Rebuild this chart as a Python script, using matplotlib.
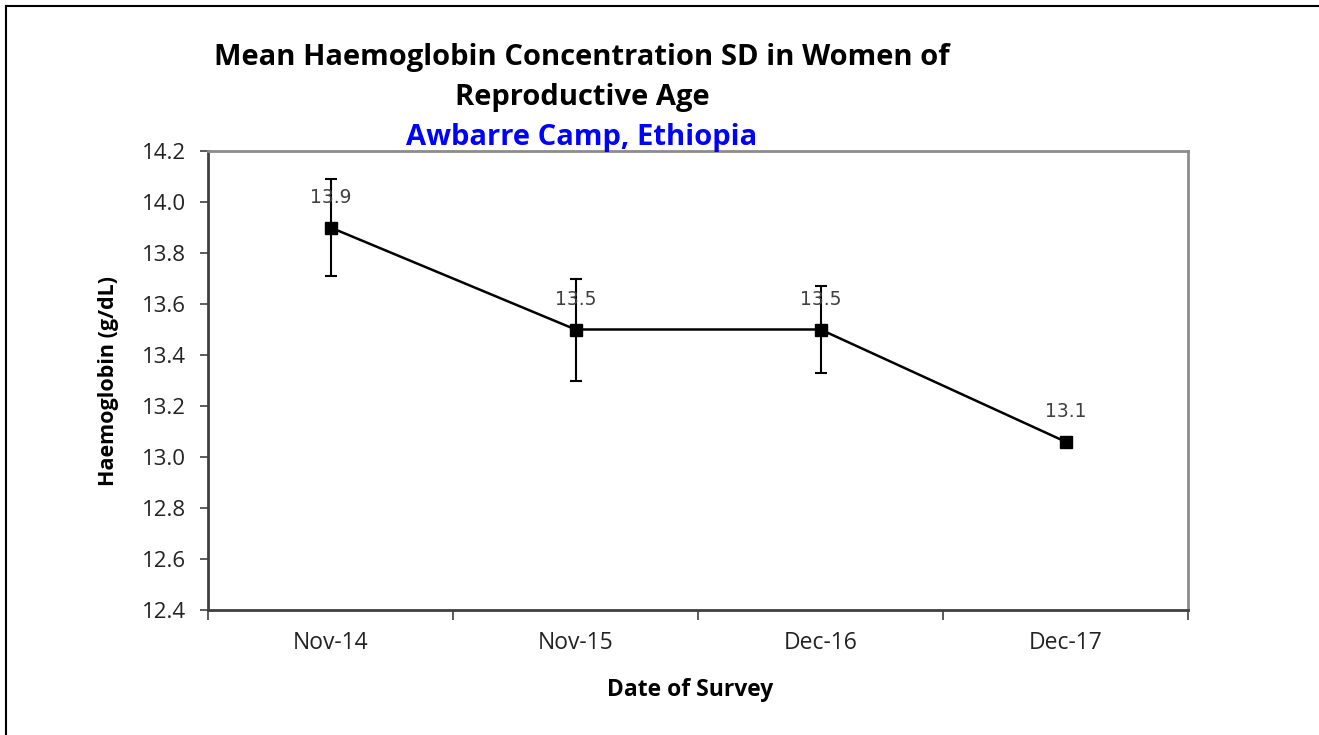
import matplotlib
matplotlib.use("Agg")
import matplotlib.pyplot as plt
from matplotlib.lines import Line2D
import numpy as np

# Data
surveys = ["Nov-14", "Nov-15", "Dec-16", "Dec-17"]
mean_hb = [13.90, 13.50, 13.50, 13.06]
sd_hb = [0.19, 0.20, 0.17, 0.0]
value_labels = ["13.9", "13.5", "13.5", "13.1"]
y_ticks = [12.4, 12.6, 12.8, 13.0, 13.2, 13.4, 13.6, 13.8, 14.0, 14.2]

W, H = 1319, 735
fig = plt.figure(figsize=(W / 100, H / 100), dpi=100)
fig.patch.set_facecolor("white")

# axes box in pixels
left, right, top, bottom = 208, 1188, 151, 610
ax = fig.add_axes([left / W, 1 - bottom / H, (right - left) / W, (bottom - top) / H])

x = np.arange(len(surveys))
ax.errorbar(x, mean_hb, yerr=sd_hb, color="black", lw=1.8, marker="s",
            markersize=9, markerfacecolor="black", markeredgecolor="black",
            ecolor="black", elinewidth=1.5, capsize=4.5, capthick=1.5, zorder=3)

for xi, yi, lab in zip(x, mean_hb, value_labels):
    ax.annotate(lab, (xi, yi), xytext=(0, 21.5), textcoords="offset points",
                ha="center", va="center", fontsize=13.5, color="#404040",
                family="DejaVu Sans")

ax.set_xlim(-0.5, len(surveys) - 0.5)
ax.set_ylim(12.4, 14.2)
ax.set_yticks(y_ticks)
ax.set_yticklabels([f"{v:.1f}" for v in y_ticks])
ax.set_xticks(x)
ax.set_xticklabels(surveys)
ax.set_xticks(np.arange(-0.5, len(surveys)), minor=True)
ax.tick_params(axis="x", which="major", length=0, pad=15, labelsize=16.5,
               labelcolor="#222222")
ax.tick_params(axis="x", which="minor", length=7, width=1.2, color="#404040",
               direction="out")
ax.tick_params(axis="y", length=6, width=1.2, color="#404040", direction="out",
               pad=10, labelsize=16, labelcolor="#222222")
for lab in ax.get_xticklabels() + ax.get_yticklabels():
    lab.set_family("Open Sans")

for s in ["left", "bottom"]:
    ax.spines[s].set_color("#404040")
    ax.spines[s].set_linewidth(2.0)
for s in ["top", "right"]:
    ax.spines[s].set_color("#8c8c8c")
    ax.spines[s].set_linewidth(2.0)

ax.set_ylabel("Haemoglobin (g/dL)", fontsize=15.5, fontweight="bold",
              family="Open Sans", labelpad=16)
fig.text(690 / W, 1 - 690 / H, "Date of Survey", ha="center", va="center",
         fontsize=16.5, fontweight="bold", family="Open Sans")

# title block
fig.text(582 / W, 1 - 58 / H, "Mean Haemoglobin Concentration SD in Women of",
         ha="center", va="center", fontsize=21, fontweight="bold", family="Open Sans")
fig.text(582 / W, 1 - 97 / H, "Reproductive Age", ha="center", va="center",
         fontsize=21, fontweight="bold", family="Open Sans")
fig.text(582 / W, 1 - 137 / H, "Awbarre Camp, Ethiopia", ha="center", va="center",
         fontsize=21, fontweight="bold", family="Open Sans", color="#0000ff")

# outer frame (only left and top edges visible)
fig.add_artist(Line2D([6 / W, 6 / W], [0, 1 - 6 / H], color="black", lw=1.5,
                      transform=fig.transFigure))
fig.add_artist(Line2D([6 / W, 1], [1 - 6 / H, 1 - 6 / H], color="black", lw=1.5,
                      transform=fig.transFigure))

fig.savefig("out.png", dpi=100)
